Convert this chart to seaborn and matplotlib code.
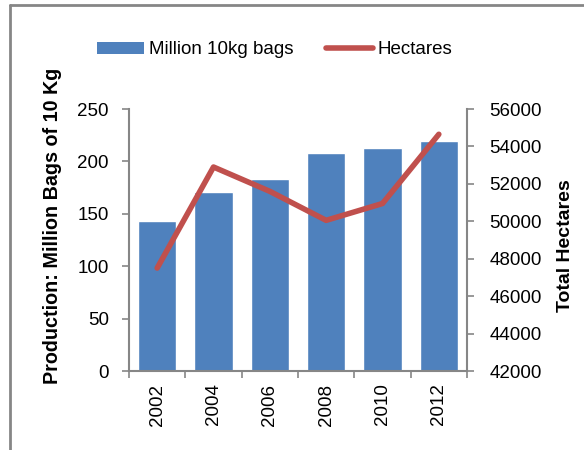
import matplotlib
matplotlib.use('Agg')
import matplotlib.pyplot as plt
import seaborn as sns
import pandas as pd
from matplotlib.lines import Line2D
from matplotlib.patches import Patch

years = ['2002', '2004', '2006', '2008', '2010', '2012']
bags = [143, 171, 183, 208, 213, 219]
hectares = [47500, 52900, 51600, 50050, 50950, 54650]

sns.set_style('white')
plt.rcParams['font.family'] = ['Liberation Sans', 'DejaVu Sans']
plt.rcParams['text.color'] = 'black'
plt.rcParams['axes.labelcolor'] = 'black'

df = pd.DataFrame({'Year': years, 'Bags': bags, 'Hectares': hectares})

fig = plt.figure(figsize=(5.84, 4.5), dpi=100)
ax = fig.add_axes([129 / 584, 1 - 371 / 450, (467 - 129) / 584, (371 - 109) / 450])

sns.barplot(data=df, x='Year', y='Bags', color='#4f81bd', saturation=1,
            width=0.68, ax=ax)
ax.set_ylim(0, 250)
ax.set_yticks(range(0, 251, 50))
ax.set_xlim(-0.5, 5.5)

ax2 = ax.twinx()
ax2.plot(range(len(years)), df['Hectares'], color='#c0504d', linewidth=4,
         solid_capstyle='round', solid_joinstyle='round')
ax2.set_ylim(42000, 56000)
ax2.set_yticks(range(42000, 56001, 2000))

grey = '#868686'
for a in (ax, ax2):
    for s in a.spines.values():
        s.set_visible(False)
for a, side in ((ax, 'left'), (ax, 'bottom'), (ax2, 'right')):
    a.spines[side].set_visible(True)
    a.spines[side].set_color(grey)
    a.spines[side].set_linewidth(1.5)

ax.tick_params(axis='y', left=True, direction='out', length=5, color=grey,
               width=1.2, labelsize=13.5, labelcolor='black', pad=9.5)
ax2.tick_params(axis='y', right=True, direction='out', length=5, color=grey,
                width=1.2, labelsize=13.5, labelcolor='black', pad=11)
# category boundaries as ticks, like the original chart
ax.set_xticks([i - 0.5 for i in range(len(years) + 1)], minor=True)
ax.tick_params(axis='x', which='minor', bottom=True, direction='out', length=5,
               color=grey, width=1.2)
ax.tick_params(axis='x', which='major', bottom=False, length=0, labelsize=13.5,
               labelcolor='black', labelrotation=90, pad=9)

ax.set_xlabel('')
ax.set_ylabel('Production: Million Bags of 10 Kg', fontsize=14.2,
              fontweight='bold', labelpad=11, y=0.553)
ax2.set_ylabel('Total Hectares', fontsize=14, fontweight='bold', labelpad=11,
               y=0.48)

handles = [Patch(facecolor='#4f81bd', edgecolor='none'),
           Line2D([0], [0], color='#c0504d', linewidth=4)]
fig.legend(handles, ['Million 10kg bags', 'Hectares'], loc='center left',
           bbox_to_anchor=(88 / 584, 1 - 50 / 450), ncol=2, frameon=False,
           fontsize=13.5, handlelength=2.5, handleheight=0.55,
           handletextpad=0.27, columnspacing=1.7, borderpad=0)

# outer chart border
fig.add_artist(Line2D([10 / 584, 10 / 584], [0, 1 - 5 / 450], color=grey,
                      linewidth=2, transform=fig.transFigure))
fig.add_artist(Line2D([10 / 584, 1], [1 - 5 / 450, 1 - 5 / 450], color=grey,
                      linewidth=2, transform=fig.transFigure))

fig.savefig('out.png', dpi=100)
